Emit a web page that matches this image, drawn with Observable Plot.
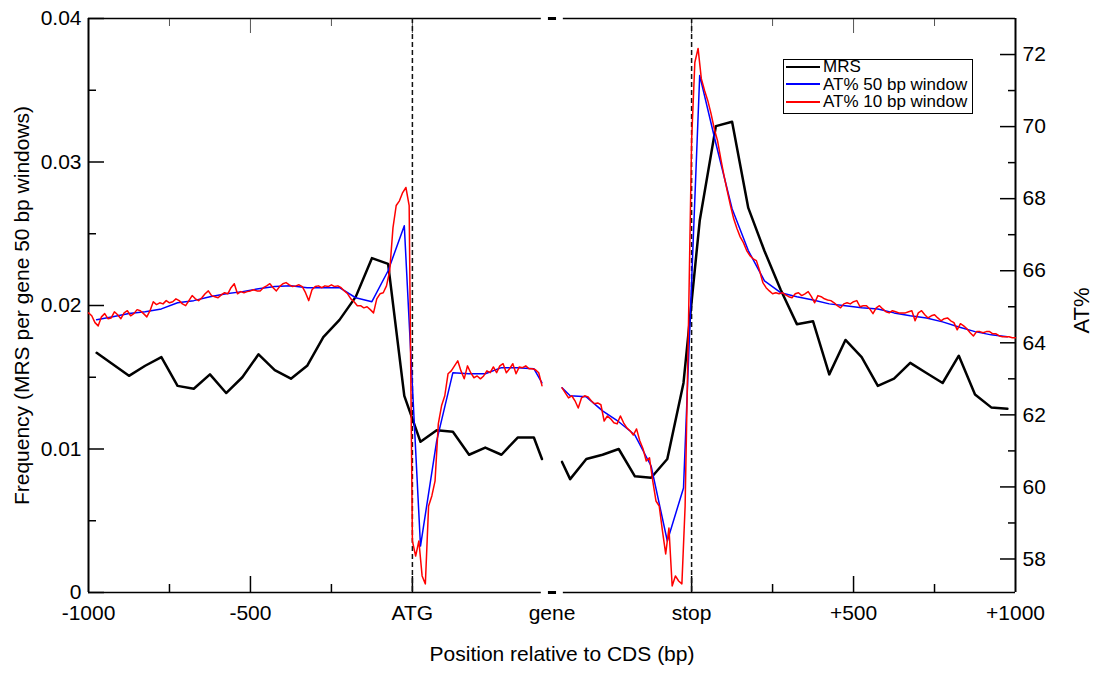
<!DOCTYPE html>
<html><head><meta charset="utf-8">
<script src="https://cdn.jsdelivr.net/npm/d3@7"></script>
<script src="https://cdn.jsdelivr.net/npm/@observablehq/plot@0.6"></script>
<style>
body{margin:0;background:#fff;font-family:"Liberation Sans",Arial,Helvetica,sans-serif;}
#wrap{position:relative;width:1101px;height:675px;}
#legend{position:absolute;left:783px;top:59px;width:190px;height:55px;border:1.5px solid #000;background:#fff;font-size:17px;box-sizing:border-box;padding-top:0px;}
#legend .row{display:flex;align-items:center;height:17.5px;line-height:17px;}
#legend .row:first-child{margin-top:-2px;}
#legend svg{margin-left:2px;margin-right:3px;}
</style></head><body><div id="wrap"></div>
<script>
// ---- axes / tick definitions ----
const stopOffset = 862;              // position of "stop" on the compressed axis
const xDomain = [-1000, 1862];
const xTickPos = [-1000, -500, 0, 431, 862, 1362, 1862];
const xTickLabels = ["-1000", "-500", "ATG", "gene", "stop", "+500", "+1000"];
const xMajorTicks = [-500, 0, 862, 1362];
const xMinorTicks = [-750, -250, 1112, 1612];
const axisBreak = [398, 466];
const breakDash = [420, 445];
const freqTicks = [0, 0.01, 0.02, 0.03, 0.04];
const freqMinor = [0.005, 0.015, 0.025, 0.035];
const atTicks = [58, 60, 62, 64, 66, 68, 70, 72];
const atMinor = [59, 61, 63, 65, 67, 69, 71];
const atRange = [57.07, 73];
const seriesNames = ["MRS", "AT% 50 bp window", "AT% 10 bp window"];
const seriesColors = ["#000000", "#0000ff", "#ff0000"];

// ---- MRS frequency (50 bp windows) ----
const mrsAtgPos = [-975,-925,-875,-825,-775,-725,-675,-625,-575,-525,-475,-425,-375,-325,-275,-225,-175,-125,-75,-25,25,75,125,175,225,275,325,375,400];
const mrsAtg = [0.0167,0.0159,0.0151,0.0158,0.0164,0.0144,0.0142,0.0152,0.0139,0.0150,0.0166,0.0155,0.0149,0.0158,0.0178,0.0190,0.0206,0.0233,0.0229,0.0137,0.0105,0.0113,0.0112,0.0096,0.0101,0.0096,0.0108,0.0108,0.0093];
const mrsStopPos = [-400,-375,-325,-275,-225,-175,-125,-75,-25,25,75,125,175,225,275,325,375,425,475,525,575,625,675,725,775,825,875,925,975];
const mrsStop = [0.0091,0.0079,0.0093,0.0096,0.0100,0.0081,0.0080,0.0093,0.0146,0.0259,0.0325,0.0328,0.0268,0.0238,0.0211,0.0187,0.0189,0.0152,0.0176,0.0164,0.0144,0.0149,0.0160,0.0153,0.0146,0.0165,0.0138,0.0129,0.0128];

// ---- AT% 50 bp window ----
const at50AtgPos = mrsAtgPos;
const at50Atg = [64.64,64.72,64.81,64.86,64.94,65.11,65.17,65.28,65.36,65.42,65.50,65.56,65.58,65.53,65.53,65.53,65.25,65.14,66.00,67.25,58.36,61.28,63.17,63.14,63.14,63.31,63.31,63.28,62.89];
const at50StopPos = mrsStopPos;
const at50Stop = [62.75,62.53,62.50,62.11,61.81,61.44,60.58,58.50,59.97,71.42,69.53,67.72,66.56,65.72,65.39,65.28,65.19,65.08,65.03,64.97,64.94,64.83,64.75,64.69,64.58,64.44,64.31,64.22,64.17];

// ---- AT% 10 bp window ----
const at10AtgPos = d3.range(-1000, 401, 10);
const at10Atg = [
64.83,64.75,64.56,64.47,64.72,64.81,64.67,64.69,64.86,64.78,
64.67,64.83,64.89,64.75,64.81,64.92,64.89,64.81,64.72,64.89,
65.14,65.06,65.11,65.08,65.17,65.11,65.14,65.22,65.17,65.08,
65.03,65.17,65.31,65.22,65.17,65.25,65.36,65.44,65.31,65.28,
65.25,65.33,65.39,65.36,65.53,65.64,65.36,65.42,65.39,65.42,
65.44,65.47,65.44,65.44,65.53,65.58,65.64,65.53,65.44,65.56,
65.64,65.67,65.61,65.56,65.58,65.61,65.56,65.39,65.17,65.47,
65.56,65.58,65.53,65.58,65.56,65.61,65.56,65.58,65.53,65.44,
65.36,65.22,65.14,65.03,65.03,64.97,65.00,64.92,64.83,65.22,
65.36,65.39,65.58,66.00,67.19,67.81,67.94,68.17,68.31,67.81,
58.50,58.08,58.50,57.53,57.31,59.47,59.75,60.17,61.75,62.25,
62.53,63.14,63.22,63.36,63.50,63.22,63.00,63.36,63.17,63.03,
63.08,63.00,63.08,63.22,63.17,63.33,63.17,63.36,63.42,63.17,
63.28,63.42,63.14,63.33,63.31,63.36,63.28,63.28,63.25,63.17,
62.81];
const at10StopPos = d3.range(-400, 1001, 10);
const at10Stop = [
62.75,62.61,62.47,62.53,62.39,62.19,62.47,62.53,62.50,62.39,
62.31,62.33,62.28,61.83,61.97,61.89,61.78,61.75,61.97,61.78,
61.64,61.56,61.44,61.61,61.28,61.06,60.72,60.81,60.17,59.61,
59.47,58.78,58.14,58.86,57.25,57.53,57.39,57.31,59.47,64.33,
69.61,71.78,72.17,71.33,71.00,70.72,70.36,69.94,69.61,69.11,
68.64,68.22,67.81,67.44,67.17,66.94,66.78,66.56,66.42,66.33,
66.28,66.00,65.67,65.53,65.44,65.36,65.39,65.36,65.39,65.33,
65.28,65.25,65.36,65.39,65.31,65.36,65.42,65.28,65.11,65.31,
65.28,65.22,65.19,65.17,65.11,65.03,64.97,65.08,65.11,65.08,
65.14,65.17,65.00,65.03,65.03,64.94,64.81,64.97,65.03,64.94,
64.86,64.83,64.89,64.86,64.83,64.83,64.83,64.86,64.89,64.61,
64.83,64.89,64.78,64.69,64.75,64.78,64.69,64.61,64.67,64.69,
64.61,64.56,64.36,64.53,64.47,64.39,64.28,64.19,64.31,64.31,
64.28,64.31,64.31,64.25,64.25,64.19,64.17,64.17,64.17,64.14,
64.14];

// ---- build table (AT% mapped onto the frequency scale for the right axis) ----
const atToFreq = v => (v - atRange[0]) / (atRange[1] - atRange[0]) * 0.04;
const freqToAt = f => atRange[0] + f / 0.04 * (atRange[1] - atRange[0]);
const rows = [];
function add(series, side, pos, vals, isAt) {
  pos.forEach((p, i) => rows.push({
    series, seg: series + side,
    u: side === "atg" ? p : stopOffset + p,
    v: isAt ? atToFreq(vals[i]) : vals[i]
  }));
}
add(seriesNames[0], "atg", mrsAtgPos, mrsAtg, false);
add(seriesNames[0], "stop", mrsStopPos, mrsStop, false);
add(seriesNames[1], "atg", at50AtgPos, at50Atg, true);
add(seriesNames[1], "stop", at50StopPos, at50Stop, true);
add(seriesNames[2], "atg", at10AtgPos, at10Atg, true);
add(seriesNames[2], "stop", at10StopPos, at10Stop, true);
const bySeries = s => rows.filter(r => r.series === s);
const labelMap = new Map(xTickPos.map((p, i) => [p, xTickLabels[i]]));
const blank = () => "";

const chart = Plot.plot({
  width: 1101, height: 675,
  marginLeft: 88, marginRight: 86, marginTop: 18, marginBottom: 83,
  style: {fontFamily: "'Liberation Sans', Arial, Helvetica, sans-serif", fontSize: "21px", background: "#fff", color: "#000"},
  x: {domain: xDomain, axis: null},
  y: {domain: [0, 0.04], axis: null},
  marks: [
    // frame with axis break at "gene"
    Plot.ruleX(xDomain, {stroke: "#000", strokeWidth: 2}),
    Plot.ruleY([0, 0.04], {x1: xDomain[0], x2: axisBreak[0], stroke: "#000", strokeWidth: 1.5}),
    Plot.ruleY([0, 0.04], {x1: axisBreak[1], x2: xDomain[1], stroke: "#000", strokeWidth: 1.5}),
    Plot.ruleY([0, 0.04], {x1: breakDash[0], x2: breakDash[1], stroke: "#000", strokeWidth: 3}),
    // inward ticks
    Plot.axisX(xMajorTicks, {anchor: "bottom", label: null, tickSize: -16, tickFormat: blank, strokeWidth: 1.5}),
    Plot.axisX(xMinorTicks, {anchor: "bottom", label: null, tickSize: -8, tickFormat: blank, strokeWidth: 1.5}),
    Plot.axisX(xMajorTicks, {anchor: "top", label: null, tickSize: -14, tickFormat: blank, strokeWidth: 1, stroke: "#555"}),
    Plot.axisX(xMinorTicks, {anchor: "top", label: null, tickSize: -7, tickFormat: blank, strokeWidth: 1, stroke: "#555"}),
    Plot.axisX(xTickPos, {anchor: "bottom", label: null, tickSize: 0, tickPadding: 13, tickFormat: d => labelMap.get(d), fontSize: 21}),
    Plot.axisY(freqTicks, {anchor: "left", label: null, tickSize: -16, tickPadding: 23, strokeWidth: 1.5, fontSize: 21,
      tickFormat: d => d === 0 ? "0" : d.toFixed(2)}),
    Plot.axisY(freqMinor, {anchor: "left", label: null, tickSize: -8, tickFormat: blank, strokeWidth: 1.5}),
    Plot.axisY(atTicks.map(atToFreq), {anchor: "right", label: null, tickSize: -16, tickPadding: 23, strokeWidth: 1.5, fontSize: 21,
      tickFormat: d => String(Math.round(freqToAt(d)))}),
    Plot.axisY(atMinor.map(atToFreq), {anchor: "right", label: null, tickSize: -8, tickFormat: blank, strokeWidth: 1.5}),
    // axis titles
    Plot.text(["Frequency (MRS per gene 50 bp windows)"], {frameAnchor: "left", textAnchor: "middle", dx: -66, rotate: -90, fontSize: 21}),
    Plot.text(["AT%"], {frameAnchor: "right", textAnchor: "middle", dx: 66, dy: 5, rotate: -90, fontSize: 22}),
    Plot.text(["Position relative to CDS (bp)"], {frameAnchor: "bottom", textAnchor: "middle", dx: 10, dy: 68, fontSize: 21}),
    // ATG and stop markers
    Plot.ruleX([0, stopOffset], {stroke: "#111", strokeWidth: 1.5, strokeDasharray: "5,3"}),
    // series
    Plot.line(bySeries(seriesNames[0]), {x: "u", y: "v", z: "seg", stroke: seriesColors[0], strokeWidth: 2.5, strokeLinejoin: "round"}),
    Plot.line(bySeries(seriesNames[1]), {x: "u", y: "v", z: "seg", stroke: seriesColors[1], strokeWidth: 1.5, strokeLinejoin: "round"}),
    Plot.line(bySeries(seriesNames[2]), {x: "u", y: "v", z: "seg", stroke: seriesColors[2], strokeWidth: 1.5, strokeLinejoin: "round"})
  ]
});
const wrap = document.getElementById("wrap");
wrap.appendChild(chart);

// legend
const legend = document.createElement("div");
legend.id = "legend";
seriesNames.forEach((name, i) => {
  const row = document.createElement("div");
  row.className = "row";
  row.innerHTML = `<svg width="34" height="10"><line x1="0" x2="34" y1="5" y2="5" stroke="${seriesColors[i]}" stroke-width="2"/></svg><span>${name}</span>`;
  legend.appendChild(row);
});
wrap.appendChild(legend);
</script></body></html>
